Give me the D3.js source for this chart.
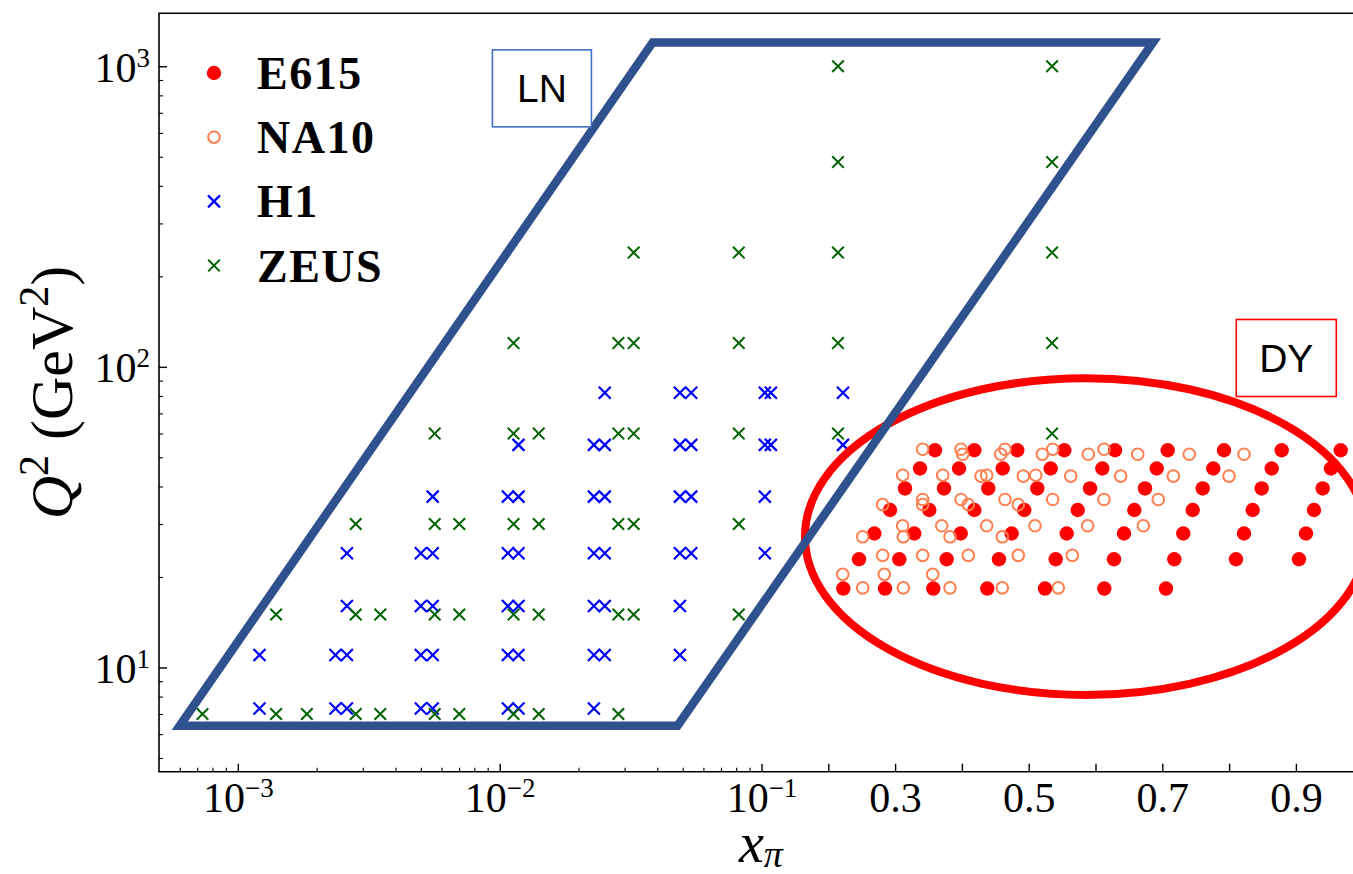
<!DOCTYPE html>
<html>
<head>
<meta charset="utf-8">
<script src="https://cdn.jsdelivr.net/npm/d3@7"></script>
<style>
  body { margin: 0; background: #fff; }
  svg { display: block; }
</style>
</head>
<body>
<svg id="chart" width="1353" height="874"></svg>
<script>
// ---- data (x_pi, Q^2 in GeV^2) ----
const zeusQ2 = [7, 15, 30, 60, 120, 240, 480, 1000]
const zeusX = [
  [7.33e-4, 1.40e-3, 1.835e-3, 2.82e-3, 3.50e-3, 5.65e-3, 7.01e-3, 1.13e-2, 1.41e-2, 2.84e-2],
  [1.40e-3, 2.82e-3, 3.50e-3, 5.65e-3, 7.01e-3, 1.13e-2, 1.41e-2, 2.84e-2, 3.25e-2, 8.19e-2],
  [2.82e-3, 5.65e-3, 7.01e-3, 1.13e-2, 1.41e-2, 2.84e-2, 3.25e-2, 8.19e-2],
  [5.65e-3, 1.13e-2, 1.41e-2, 2.84e-2, 3.25e-2, 8.19e-2, 0.2145, 0.535],
  [1.13e-2, 2.84e-2, 3.25e-2, 8.19e-2, 0.2145, 0.535],
  [3.25e-2, 8.19e-2, 0.2145, 0.535],
  [0.2145, 0.535],
  [0.2145, 0.535]
]

const h1Q2 = [7.3, 11, 16, 24, 37, 55, 82]
const h1X = [
  [1.21e-3, 2.36e-3, 2.61e-3, 5.00e-3, 5.55e-3, 1.075e-2, 1.18e-2, 2.29e-2],
  [1.21e-3, 2.36e-3, 2.61e-3, 5.00e-3, 5.55e-3, 1.075e-2, 1.18e-2, 2.29e-2, 2.52e-2, 4.88e-2],
  [2.61e-3, 5.00e-3, 5.55e-3, 1.075e-2, 1.18e-2, 2.29e-2, 2.52e-2, 4.88e-2],
  [2.61e-3, 5.00e-3, 5.55e-3, 1.075e-2, 1.18e-2, 2.29e-2, 2.52e-2, 4.88e-2, 5.39e-2, 0.105],
  [5.55e-3, 1.075e-2, 1.18e-2, 2.29e-2, 2.52e-2, 4.88e-2, 5.39e-2, 0.105],
  [1.18e-2, 2.29e-2, 2.52e-2, 4.88e-2, 5.39e-2, 0.105, 0.114, 0.222],
  [2.52e-2, 4.88e-2, 5.39e-2, 0.105, 0.114, 0.222]
]

const e615Q2 = [18.3, 22.9, 27.9, 33.4, 39.4, 45.9, 52.8]
const e615X = [
  [0.2225, 0.2849, 0.3572, 0.4380, 0.5244, 0.6132, 0.7055],
  [0.2460, 0.3063, 0.3772, 0.4555, 0.5404, 0.6277, 0.7180, 0.8103, 0.9046],
  [0.2689, 0.3287, 0.3982, 0.4745, 0.5569, 0.6427, 0.7314, 0.8223, 0.9151],
  [0.2924, 0.3512, 0.4186, 0.4934, 0.5734, 0.6581, 0.7455, 0.8353, 0.9271],
  [0.3148, 0.3732, 0.4395, 0.5129, 0.5918, 0.6741, 0.7605, 0.8488, 0.9401],
  [0.3373, 0.3957, 0.4611, 0.5329, 0.6102, 0.6916, 0.7763, 0.8638, 0.9525],
  [0.3597, 0.4186, 0.4829, 0.5533, 0.6292, 0.7081, 0.7924, 0.8787, 0.9671]
]

const na10Q2 = [18.4, 20.4, 23.6, 27.2, 29.6, 34.8, 36.2, 43.3, 43.6, 51.2, 53.2]
const na10X = [
  [0.2515, 0.3123, 0.3822, 0.4605, 0.5443],
  [0.2216, 0.2838, 0.3563],
  [0.2814, 0.3413, 0.4096, 0.4844, 0.5653],
  [0.2515, 0.3123, 0.3822, 0.4605],
  [0.3114, 0.3698, 0.4371, 0.5094, 0.5883, 0.6716],
  [0.2814, 0.3413, 0.4096, 0.4844],
  [0.3413, 0.3987, 0.4645, 0.5359, 0.6127, 0.6940],
  [0.4286, 0.4919, 0.5629, 0.6377, 0.7165, 0.7999],
  [0.3114, 0.3713, 0.4371, 0.5105],
  [0.4012, 0.4581, 0.5204, 0.5892, 0.6632, 0.7404, 0.8223],
  [0.3413, 0.3987, 0.4645, 0.5359, 0.6127]
]

// LN region (parallelogram corners) and DY region (ellipse extent)
const lnRegionX = [6e-4, 0.0384, 0.686, 0.0478]
const lnRegionQ2 = [6.4, 1200, 1200, 6.4]
const dyRegionX = [0.1651, 1.0064]
const dyRegionQ2 = [8.1, 91.7]
const regionLabels = ['LN', 'DY']
const regionLabelX = [0.0145, 0.8856]
const regionLabelQ2 = [844, 107]

const legendNames = ['E615', 'NA10', 'H1', 'ZEUS']

// ticks
const xLogMajor = [1e-3, 1e-2, 1e-1]
const xLogExp = ['−3', '−2', '−1']
const xLogMinor = [6e-4, 7e-4, 8e-4, 9e-4, 2e-3, 3e-3, 4e-3, 5e-3, 6e-3, 7e-3, 8e-3, 9e-3,
  2e-2, 3e-2, 4e-2, 5e-2, 6e-2, 7e-2, 8e-2, 9e-2]
const xLinTicks = [0.2, 0.3, 0.4, 0.5, 0.6, 0.7, 0.8, 0.9]
const xLinLabelled = [0.3, 0.5, 0.7, 0.9]
const yMajor = [10, 100, 1000]
const yExp = ['1', '2', '3']
const yMinor = [5, 6, 7, 8, 9, 20, 30, 40, 50, 60, 70, 80, 90, 200, 300, 400, 500, 600, 700, 800, 900]

// ---- layout ----
const svg = d3.select('#chart')
const frame = { left: 159, right: 1362.7, top: 13.3, bottom: 771.7, brk: 761.5 }
const serif = '"Liberation Serif", "DejaVu Serif", serif'
const sans = '"Liberation Sans", Arial, sans-serif'

svg.append('rect').attr('width', 1353).attr('height', 874).attr('fill', '#fff')

// log below 0.1, linear above
const xLog = d3.scaleLog().domain([5e-4, 0.1]).range([frame.left, frame.brk])
const xLin = d3.scaleLinear().domain([0.1, 1.0]).range([frame.brk, frame.right])
const x = v => (v <= 0.1 ? xLog(v) : xLin(v))
const y = d3.scaleLog().domain([4.5, 1500]).range([frame.bottom, frame.top])

const rowsToPoints = (q2s, xs) => q2s.flatMap((q, i) => xs[i].map(v => ({ x: v, q2: q })))

const colors = { e615: '#ff0000', na10: '#ff7f50', h1: '#0000ff', zeus: '#006400', ln: '#2f528f' }
const cross = s => `M${-s},${-s}L${s},${s}M${-s},${s}L${s},${-s}`

// ---- axes ----
function tidy(g, size) {
  g.select('.domain').remove()
  g.selectAll('line').attr('stroke', '#000').attr('stroke-width', size > 5 ? 1.4 : 1.1)
  g.attr('font-family', serif).attr('font-size', 42)
  g.selectAll('text').attr('fill', '#000')
}

function supText(text, base, exp, raise) {
  text.text(null)
  text.append('tspan').text(base)
  text.append('tspan').attr('font-size', 27).attr('dy', -raise).text(exp)
}

const xAxis = svg.append('g').attr('transform', `translate(0,${frame.bottom})`)
xAxis.append('g')
  .call(d3.axisBottom(xLog).tickValues(xLogMinor).tickSize(-4).tickFormat(''))
  .call(g => tidy(g, 4))
  .call(g => g.selectAll('text').remove())
xAxis.append('g')
  .call(d3.axisBottom(xLog).tickValues(xLogMajor).tickSize(-8).tickPadding(10).tickFormat(''))
  .call(g => tidy(g, 8))
  .call(g => g.selectAll('text').each(function (d, i) { supText(d3.select(this), '10', xLogExp[i], 15) }))
xAxis.append('g')
  .call(d3.axisBottom(xLin).tickValues(xLinTicks).tickSize(-8).tickPadding(10).tickFormat(d3.format('.1f')))
  .call(g => tidy(g, 8))
  .call(g => g.selectAll('text').filter(d => !xLinLabelled.includes(d)).remove())

const yAxis = svg.append('g').attr('transform', `translate(${frame.left},0)`)
yAxis.append('g')
  .call(d3.axisLeft(y).tickValues(yMinor).tickSize(-4).tickFormat(''))
  .call(g => tidy(g, 4))
  .call(g => g.selectAll('text').remove())
yAxis.append('g')
  .call(d3.axisLeft(y).tickValues(yMajor).tickSize(-8).tickPadding(9).tickFormat(''))
  .call(g => tidy(g, 8))
  .call(g => g.selectAll('text').attr('dy', '0.36em')
    .each(function (d, i) { supText(d3.select(this), '10', yExp[i], 15) }))

// spines
svg.append('path')
  .attr('d', `M${frame.right},${frame.top}H${frame.left}V${frame.bottom}H${frame.right}V${frame.top}`)
  .attr('stroke', '#000').attr('stroke-width', 1.6).attr('fill', 'none')

// ---- data marks ----
const plot = svg.append('g')

plot.append('g').selectAll('circle')
  .data(rowsToPoints(e615Q2, e615X))
  .join('circle')
  .attr('cx', d => x(d.x)).attr('cy', d => y(d.q2)).attr('r', 7.2)
  .attr('fill', colors.e615)

plot.append('g').selectAll('circle')
  .data(rowsToPoints(na10Q2, na10X))
  .join('circle')
  .attr('cx', d => x(d.x)).attr('cy', d => y(d.q2)).attr('r', 5.8)
  .attr('fill', 'none').attr('stroke', colors.na10).attr('stroke-width', 2)

plot.append('g').selectAll('path')
  .data(rowsToPoints(h1Q2, h1X))
  .join('path')
  .attr('transform', d => `translate(${x(d.x)},${y(d.q2)})`)
  .attr('d', cross(6))
  .attr('stroke', colors.h1).attr('stroke-width', 2.2).attr('fill', 'none')

plot.append('g').selectAll('path')
  .data(rowsToPoints(zeusQ2, zeusX))
  .join('path')
  .attr('transform', d => `translate(${x(d.x)},${y(d.q2)})`)
  .attr('d', cross(5.8))
  .attr('stroke', colors.zeus).attr('stroke-width', 2).attr('fill', 'none')

// DY ellipse
const ex0 = x(dyRegionX[0]), ex1 = x(dyRegionX[1])
const ey0 = y(dyRegionQ2[0]), ey1 = y(dyRegionQ2[1])
plot.append('ellipse')
  .attr('cx', (ex0 + ex1) / 2).attr('cy', (ey0 + ey1) / 2)
  .attr('rx', (ex1 - ex0) / 2).attr('ry', (ey0 - ey1) / 2)
  .attr('fill', 'none').attr('stroke', colors.e615).attr('stroke-width', 8)

// LN parallelogram
const lnLine = d3.line().x(d => x(d[0])).y(d => y(d[1]))
plot.append('path')
  .attr('d', lnLine(d3.zip(lnRegionX, lnRegionQ2)) + 'Z')
  .attr('fill', 'none').attr('stroke', colors.ln).attr('stroke-width', 8.5)
  .attr('stroke-linejoin', 'miter')

// region label boxes
const boxStroke = ['#4472c4', '#ff0000']
const boxW = [99, 100], boxH = [77, 77]
regionLabels.forEach((name, i) => {
  const cx = x(regionLabelX[i]), cy = y(regionLabelQ2[i])
  const g = svg.append('g').attr('transform', `translate(${cx},${cy})`)
  g.append('rect')
    .attr('x', -boxW[i] / 2).attr('y', -boxH[i] / 2)
    .attr('width', boxW[i]).attr('height', boxH[i])
    .attr('fill', '#fff').attr('stroke', boxStroke[i]).attr('stroke-width', 1.6)
  g.append('text')
    .attr('text-anchor', 'middle').attr('y', 14)
    .attr('font-family', sans).attr('font-size', 39).attr('fill', '#000')
    .text(name)
})

// ---- legend ----
const legend = svg.append('g').attr('transform', 'translate(214,73)')
legendNames.forEach((name, i) => {
  const row = legend.append('g').attr('transform', `translate(0,${i * 64.2})`)
  if (i === 0) row.append('circle').attr('r', 7.2).attr('fill', colors.e615)
  if (i === 1) row.append('circle').attr('r', 5.8).attr('fill', 'none')
    .attr('stroke', colors.na10).attr('stroke-width', 2)
  if (i === 2) row.append('path').attr('d', cross(6)).attr('stroke', colors.h1).attr('stroke-width', 2.2)
  if (i === 3) row.append('path').attr('d', cross(5.8)).attr('stroke', colors.zeus).attr('stroke-width', 2)
  row.append('text')
    .attr('x', 43).attr('y', 16)
    .attr('font-family', serif).attr('font-weight', 'bold').attr('font-size', 46)
    .attr('letter-spacing', 1.5)
    .attr('fill', '#000')
    .text(name)
})

// ---- axis titles ----
svg.append('text')
  .attr('transform', `translate(72,${(frame.top + frame.bottom) / 2}) rotate(-90)`)
  .attr('text-anchor', 'middle')
  .attr('font-family', serif).attr('font-size', 60).attr('fill', '#000')
  .call(t => {
    t.append('tspan').attr('font-style', 'italic').text('Q')
    t.append('tspan').attr('font-size', 42).attr('dy', -24).text('2')
    t.append('tspan').attr('dy', 24).text(' (GeV')
    t.append('tspan').attr('font-size', 42).attr('dy', -24).text('2')
    t.append('tspan').attr('dy', 24).text(')')
  })

svg.append('text')
  .attr('x', (frame.left + frame.right) / 2).attr('y', 862)
  .attr('text-anchor', 'middle')
  .attr('font-family', serif).attr('font-size', 56).attr('fill', '#000')
  .call(t => {
    t.append('tspan').attr('font-style', 'italic').text('x')
    t.append('tspan').attr('font-style', 'italic').attr('font-size', 38).attr('dy', 5).text('π')
  })
</script>
</body>
</html>
